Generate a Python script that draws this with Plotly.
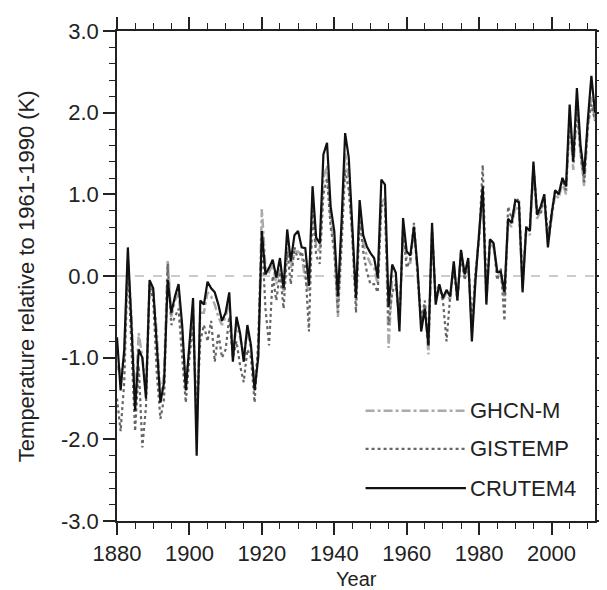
import plotly.graph_objects as go

years = list(range(1880, 2013))

crutem4 = [
    -0.75, -1.4, -0.9, 0.35, -0.6, -1.65, -0.9, -1.0, -1.5, -0.05,
    -0.15, -0.9, -1.55, -1.3, -0.05, -0.45, -0.25, -0.1, -0.6, -1.4,
    -0.8, -0.27, -2.2, -0.3, -0.35, -0.07, -0.15, -0.2, -0.35, -0.55,
    -0.45, -0.2, -1.05, -0.5, -0.7, -1.05, -0.6, -0.85, -1.4, -1.0,
    0.55, 0.02, 0.1, 0.2, -0.02, 0.22, -0.15, 0.57, 0.18, 0.5,
    0.55, 0.35, 0.34, -0.12, 1.1, 0.47, 0.4, 1.49, 1.63, 0.85,
    0.55, -0.25, 0.65, 1.75, 1.45, 0.6, -0.27, 0.93, 0.5, 0.36,
    0.28, 0.22, -0.02, 1.18, 1.12, -0.38, 0.14, 0.04, -0.68, 0.71,
    0.3, 0.25, 0.6, 0.1, -0.68, -0.4, -0.85, 0.65, -0.35, -0.1,
    -0.27, -0.17, -0.25, 0.18, -0.3, 0.32, 0.02, 0.22, -0.8, -0.05,
    0.55, 1.1, -0.35, 0.45, 0.4, 0.05, 0.05, -0.2, 0.7, 0.65,
    0.93, 0.9, -0.2, 0.6, 0.55, 1.4, 0.75, 0.85, 1.0, 0.35,
    0.75, 1.05, 1.0, 1.2, 1.1, 2.1, 1.4, 2.3, 1.6, 1.25,
    1.9, 2.45, 2.0,
]

gistemp = [
    -1.5, -1.9, -1.3, 0.2, -0.9, -1.9, -1.1, -2.1, -1.6, -0.1,
    -0.3, -1.2, -1.75, -1.5, 0.15, -0.6, -0.5, -0.4, -1.0, -1.55,
    -1.0, -0.6, -1.7, -0.8, -0.6, -0.8, -0.55, -1.05, -0.7, -1.0,
    -0.9, -0.5, -1.0, -0.8, -1.1, -1.3, -0.9, -1.0, -1.55, -0.8,
    0.5, -0.4, -0.85, 0.0, -0.3, 0.05, -0.4, 0.3, -0.1, 0.35,
    0.2, 0.3, 0.1, -0.68, 0.8, 0.25, 0.15, 1.0, 1.2, 0.6,
    0.3, -0.45, 0.35, 1.3, 1.05, 0.5, -0.45, 0.7, 0.3, 0.05,
    -0.1, -0.1, -0.2, 0.85, 0.9, -0.6, -0.2, -0.1, -0.55, 0.55,
    0.1, 0.2, 0.65, 0.05, -0.55, -0.3, -0.85, 0.55, -0.25, -0.1,
    -0.3, -0.8, -0.25, 0.1, -0.3, 0.25, -0.05, 0.15, -0.6, 0.05,
    0.45, 1.36, -0.2, 0.45, 0.4, -0.05, 0.1, -0.55, 0.85, 0.7,
    0.9, 0.95, -0.1, 0.6, 0.6, 1.35, 0.8, 0.75, 1.0, 0.5,
    0.75, 1.05, 1.0, 1.2, 1.05, 1.95, 1.4, 2.05, 1.5, 1.15,
    1.85, 2.1, 1.9,
]

ghcn = [
    -1.1, -1.2, -1.0, 0.2, -0.5, -1.55, -0.7, -1.0, -1.4, -0.1,
    -0.2, -0.7, -1.5, -1.2, 0.2, -0.5, -0.3, -0.2, -0.7, -1.3,
    -0.9, -0.4, -1.9, -0.45, -0.45, -0.2, -0.25, -0.35, -0.5, -0.6,
    -0.5, -0.3, -0.95, -0.6, -0.75, -1.0, -0.65, -0.9, -1.3, -0.95,
    0.82, 0.1, 0.05, 0.15, -0.1, 0.1, -0.2, 0.4, 0.1, 0.3,
    0.3, 0.25, -0.05, -0.2, 0.95, 0.35, 0.3, 1.2, 1.35, 0.7,
    0.4, -0.5, 0.5, 1.5, 1.2, 0.45, -0.3, 0.8, 0.4, 0.25,
    0.15, 0.1, -0.1, 0.9, 0.95, -0.88, 0.0, -0.05, -0.6, 0.6,
    0.2, 0.15, 0.62, 0.0, -0.6, -0.35, -0.96, 0.55, -0.3, -0.15,
    -0.3, -0.2, -0.3, 0.15, -0.25, 0.3, 0.0, 0.2, -0.7, 0.0,
    0.5, 1.05, -0.3, 0.4, 0.35, 0.05, 0.0, -0.25, 0.65, 0.6,
    0.85, 0.8, -0.15, 0.55, 0.5, 1.3, 0.7, 0.8, 0.95, 0.4,
    0.7, 1.0, 0.95, 1.15, 1.0, 1.9, 1.3, 2.1, 1.5, 1.1,
    1.8, 2.2, 1.9,
]

ytick_vals = [-3, -2, -1, 0, 1, 2, 3]
ytick_text = ["-3.0", "-2.0", "-1.0", "0.0", "1.0", "2.0", "3.0"]

series = [
    ("GHCN-M", ghcn, "#aaaaaa", "dashdot", 2.5),
    ("GISTEMP", gistemp, "#666666", "dot", 2.2),
    ("CRUTEM4", crutem4, "#111111", "solid", 2.2),
]

font = "Liberation Sans, Arial, sans-serif"

fig = go.Figure()

# zero reference line
fig.add_shape(type="line", xref="paper", x0=0, x1=1, yref="y", y0=0, y1=0,
              line=dict(color="#bbbbbb", width=1.5, dash="dash"), layer="below")

for name, vals, col, dash, w in series:
    fig.add_trace(go.Scatter(x=years, y=vals, mode="lines", name=name,
                             line=dict(color=col, width=w, dash=dash),
                             showlegend=False))

# hand-made legend with long line samples (bottom right)
leg_y = [0.225, 0.147, 0.067]
for (name, vals, col, dash, w), ly in zip(series, leg_y):
    fig.add_shape(type="line", xref="paper", yref="paper", x0=0.52, x1=0.73,
                  y0=ly, y1=ly, line=dict(color=col, width=w, dash=dash))
    fig.add_annotation(text=name, xref="paper", yref="paper", x=0.735, y=ly,
                       xanchor="left", yanchor="middle", showarrow=False,
                       font=dict(size=22, color="#222222", family=font))

axis_common = dict(showline=True, linecolor="#222222", linewidth=1.5,
                   mirror="ticks", ticks="outside", tickcolor="#222222",
                   tickwidth=1.5, ticklen=12, showgrid=False, zeroline=False,
                   tickfont=dict(size=22, color="#222222", family=font))

fig.update_xaxes(range=[1880, 2012], tick0=1880, dtick=20,
                 minor=dict(ticks="outside", dtick=5, ticklen=6,
                            tickcolor="#222222", tickwidth=1.2),
                 **axis_common)
fig.update_yaxes(range=[-3, 3], tickvals=ytick_vals, ticktext=ytick_text,
                 minor=dict(ticks="outside", dtick=0.2, ticklen=6,
                            tickcolor="#222222", tickwidth=1.2),
                 **axis_common)

fig.add_annotation(text="Temperature relative to 1961-1990 (K)", textangle=-90,
                   xref="paper", yref="paper", x=-0.19, y=0.5,
                   xanchor="center", yanchor="middle", showarrow=False,
                   font=dict(size=22, color="#222222", family=font))
fig.add_annotation(text="Year", xref="paper", yref="paper", x=0.5, y=-0.145,
                   xanchor="center", yanchor="bottom", showarrow=False,
                   font=dict(size=20, color="#222222", family=font))

fig.update_layout(width=607, height=590,
                  margin=dict(l=109, r=6, t=23, b=77),
                  paper_bgcolor="white", plot_bgcolor="white")

fig.write_html("out.html")
